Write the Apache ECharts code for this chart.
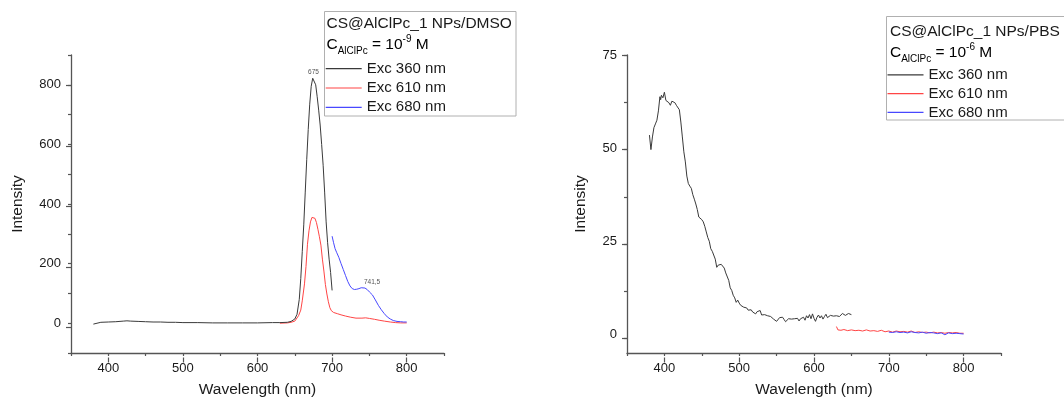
<!DOCTYPE html>
<html>
<head>
<meta charset="utf-8">
<title>CS@AlClPc_1 NPs emission spectra</title>
<script src="https://cdn.jsdelivr.net/npm/echarts@6/dist/echarts.min.js"></script>
<style>
  html, body { margin: 0; padding: 0; background: #fff; }
  #chart { width: 1064px; height: 403px; }
</style>
</head>
<body>
<div id="chart"></div>
<script>
// ---- Emission spectra in DMSO (C = 1e-9 M) ----
const dmsoWl360 = [380, 382, 390, 400, 410, 420, 425, 430, 440, 450, 460, 470, 480, 490, 500, 520, 540, 560, 580, 600, 620, 630, 640, 645, 650, 653, 656, 658, 660, 662, 664, 666, 668, 670, 672, 674, 675, 676, 678, 680, 682, 684, 686, 688, 690, 692, 694, 696, 698, 700];
const dmsoInt360 = [-3, 2, 3, 4, 5, 7, 8, 7, 6, 5, 4, 4, 3, 3, 2, 2, 1, 1, 1, 1, 2, 2, 3, 6, 14, 30, 80, 150, 240, 330, 440, 550, 650, 735, 795, 822, 826, 822, 800, 760, 715, 665, 600, 530, 440, 340, 270, 215, 170, 110];

const dmsoWl610 = [630, 640, 645, 650, 652, 655, 658, 660, 663, 665, 667, 669, 671, 673, 675, 677, 679, 681, 683, 685, 687, 689, 691, 693, 695, 697, 699, 702, 707, 712, 718, 725, 732, 740, 745, 750, 757, 763, 770, 778, 785, 792, 800];
const dmsoInt610 = [0, 1, 3, 7, 11, 25, 44, 75, 132, 190, 265, 310, 340, 355, 357, 352, 338, 315, 290, 262, 215, 175, 130, 98, 72, 52, 42, 36, 32, 28, 24, 20, 17, 17, 18, 16, 13, 10, 7, 4, 2, 1, 1];

const dmsoWl680 = [700, 702, 704, 706, 709, 712, 715, 718, 721, 724, 727, 730, 733, 736, 739, 741.5, 744, 747, 750, 754, 758, 762, 766, 770, 774, 778, 782, 787, 792, 796, 800];
const dmsoInt680 = [292, 270, 250, 238, 221, 200, 180, 160, 140, 125, 116, 113, 114, 116, 119, 120, 118, 113, 105, 95, 78, 60, 45, 32, 21, 14, 9, 6, 5, 4, 4];

// ---- Emission spectra in PBS (C = 1e-6 M) ----
const pbsWl360 = [380, 382, 384, 386, 388, 390, 392, 394, 395, 396, 398, 400, 402, 404, 406, 408, 410, 412, 414, 416, 418, 420, 422, 424, 426, 428, 430, 432, 434, 436, 438, 440, 442, 444, 446, 448, 450, 452, 454, 456, 458, 460, 462, 464, 466, 468, 470, 472, 474, 476, 478, 480, 482, 484, 486, 488, 490, 492, 494, 496, 498, 500, 502, 504, 506, 508, 510, 512, 514, 516, 518, 520, 522, 524, 526, 528, 530, 532, 534, 536, 538, 540, 542, 544, 546, 548, 550, 552, 554, 556, 558, 560, 562, 564, 566, 568, 570, 572, 574, 576, 578, 580, 582, 584, 586, 588, 590, 592, 594, 596, 598, 600, 602, 604, 606, 608, 610, 612, 614, 616, 618, 620, 622, 624, 626, 628, 630, 632, 634, 636, 638, 640, 642, 644, 646, 648, 650];
const pbsInt360 = [53.5, 49.6, 53, 55.5, 56.5, 57.5, 60, 63.8, 63, 64.2, 63.5, 65, 62.8, 62.5, 62.2, 61.5, 62.6, 62.9, 62.2, 61.5, 61, 60.3, 57, 53, 49, 46.3, 42.5, 40.5, 39.8, 39.2, 37.5, 36.3, 35, 33.5, 31.5, 31, 30.8, 30.2, 29, 27.5, 26, 25, 23, 22.3, 21.8, 20.2, 18, 18.6, 18.2, 18.8, 18.4, 17.8, 16.5, 16.2, 14.5, 12.5, 11.8, 10.5, 9.8, 8.6, 9.2, 8.4, 7.8, 7.5, 7.3, 6.9, 7.1, 6.5, 6.2, 6.6, 6.0, 6.3, 5.5, 6.1, 5.8, 6.4, 5.2, 4.9, 5.3, 4.8, 5.0, 4.6, 4.8, 4.3, 4.1, 3.8, 3.5, 3.9, 4.5, 5.0, 4.6, 4.0, 3.4, 3.8, 4.2, 3.9, 4.1, 4.4, 4.2, 4.5, 4.3, 3.6, 4.2, 4.0, 4.6, 3.8, 5.0, 4.4, 5.3, 4.2, 5.5, 4.3, 3.5, 4.6, 5.2, 4.4, 5.0, 4.1, 4.8, 5.4, 4.5, 4.9, 5.1, 4.6, 4.9, 4.7, 5.0, 4.6, 4.8, 5.2, 5.6, 5.3, 5.1, 5.4, 5.6, 5.2, 5.3];

const pbsWl610 = [630, 632, 636, 640, 645, 650, 655, 660, 665, 670, 675, 680, 685, 690, 695, 700, 705, 710, 715, 720, 725, 730, 735, 740, 745, 750, 755, 760, 765, 770, 775, 780, 785, 790, 795, 800];
const pbsInt610 = [2.1, 1.2, 1.1, 1.3, 1.0, 1.2, 1.0, 1.1, 0.9, 1.2, 0.9, 1.0, 0.8, 1.1, 0.7, 0.9, 0.6, 0.9, 0.7, 0.8, 0.6, 0.9, 0.5, 0.7, 0.5, 0.6, 0.4, 0.6, 0.4, 0.5, 0.3, 0.5, 0.4, 0.5, 0.3, 0.3];

const pbsWl680 = [700, 705, 710, 715, 720, 725, 730, 735, 740, 745, 750, 755, 760, 765, 770, 775, 780, 785, 790, 795, 800];
const pbsInt680 = [0.6, 0.5, 0.7, 0.5, 0.6, 0.4, 0.7, 0.5, 0.4, 0.6, 0.3, 0.5, 0.4, 0.2, 0.4, -0.1, 0.4, 0.2, 0.3, 0.2, 0.1];

// Peak positions annotated on the DMSO spectra
const dmsoPeak360 = 675;
const dmsoPeak680 = 741.5;

// Axis ranges and tick labels
const wlRange = [350, 850];
const wlLabels = [400, 500, 600, 700, 800];
const dmsoRange = [-100, 900];
const dmsoLabels = [0, 200, 400, 600, 800];
const pbsRange = [-5, 75];
const pbsLabels = [0, 25, 50, 75];

const seriesNames = ['Exc 360 nm', 'Exc 610 nm', 'Exc 680 nm'];
const seriesColors = ['#3a3a3a', '#ff4545', '#4848ff'];

const FONT = '"Liberation Sans", Arial, sans-serif';
const AXIS_COLOR = '#555';
const TEXT_COLOR = '#1a1a1a';

// Plot frames (px)
const PLOT_TOP = 55, PLOT_H = 302.5;
const frames = [{ left: 71, width: 373 }, { left: 627, width: 374 }];

const pairs = (xs, ys) => xs.map((x, i) => [x, ys[i]]);
const valueAt = (xs, ys, x) => ys[xs.indexOf(x)];
const first = a => a[0], last = a => a[a.length - 1];

// Sub-frame covering only the labelled span, so major ticks line up with the labels
function majorFrame(frame, xRange, xLab, yRange, yLab) {
  const sx = frame.width / (xRange[1] - xRange[0]);
  const sy = PLOT_H / (yRange[1] - yRange[0]);
  const left = frame.left + (first(xLab) - xRange[0]) * sx;
  const width = (last(xLab) - first(xLab)) * sx;
  const top = PLOT_TOP + (yRange[1] - last(yLab)) * sy;
  const height = (last(yLab) - first(yLab)) * sy;
  return {
    grid: { left, top, width, height },
    xOffset: PLOT_TOP + PLOT_H - (top + height),
    yOffset: left - frame.left
  };
}
const dmsoMajor = majorFrame(frames[0], wlRange, wlLabels, dmsoRange, dmsoLabels);
const pbsMajor = majorFrame(frames[1], wlRange, wlLabels, pbsRange, pbsLabels);

const tickStyle = { color: AXIS_COLOR, width: 1.2 };

function mainX(gridIndex) {
  return {
    type: 'value', gridIndex, position: 'bottom', min: wlRange[0], max: wlRange[1], interval: 50,
    name: 'Wavelength (nm)', nameLocation: 'middle', nameGap: 29,
    nameTextStyle: { fontFamily: FONT, fontSize: 15.5, color: TEXT_COLOR },
    axisLine: { show: true, onZero: false, lineStyle: { color: AXIS_COLOR, width: 1.3 } },
    axisTick: { show: true, inside: false, length: 3, lineStyle: tickStyle },
    axisLabel: { show: true, customValues: wlLabels, margin: 9, fontFamily: FONT, fontSize: 13, color: TEXT_COLOR },
    splitLine: { show: false }
  };
}
function mainY(gridIndex, range, labels, gap, minorInterval) {
  return {
    type: 'value', gridIndex, position: 'left', min: range[0], max: range[1],
    interval: minorInterval || undefined,
    name: 'Intensity', nameLocation: 'middle', nameGap: gap, nameRotate: 90,
    nameTextStyle: { fontFamily: FONT, fontSize: 15.5, color: TEXT_COLOR },
    axisLine: { show: true, onZero: false, lineStyle: { color: AXIS_COLOR, width: 1.3 } },
    axisTick: { show: !!minorInterval, inside: false, length: 3, lineStyle: tickStyle },
    axisLabel: { show: true, customValues: labels, margin: 10, fontFamily: FONT, fontSize: 13, color: TEXT_COLOR },
    splitLine: { show: false }
  };
}
// Tick-only axis on a sub-frame
function tickAxis(gridIndex, position, offset, min, max, interval, length) {
  return {
    type: 'value', gridIndex, position, offset, min, max, interval,
    axisLine: { show: false, onZero: false },
    axisTick: { show: true, inside: false, length, lineStyle: tickStyle },
    axisLabel: { show: false },
    splitLine: { show: false }
  };
}

function lineSeries(name, color, xIdx, yIdx, data, extra) {
  return Object.assign({
    name, type: 'line', xAxisIndex: xIdx, yAxisIndex: yIdx,
    data, symbol: 'none', showSymbol: false, smooth: false,
    lineStyle: { color, width: 1 }, itemStyle: { color },
    emphasis: { disabled: true }, animation: false
  }, extra || {});
}

function peakMark(x, y, offset) {
  return {
    symbol: 'circle', symbolSize: 1, itemStyle: { color: 'rgba(0,0,0,0)' },
    label: {
      show: true, position: 'top', distance: 1, offset,
      formatter: String(x).replace('.', ','),
      fontFamily: FONT, fontSize: 6.5, color: '#555'
    },
    data: [{ coord: [x, y] }],
    animation: false
  };
}

const legendBase = {
  orient: 'vertical', padding: 0, icon: 'rect', itemWidth: 36, itemHeight: 1.2,
  selectedMode: false, data: seriesNames,
  textStyle: { fontFamily: FONT, fontSize: 15, color: TEXT_COLOR, lineHeight: 16 }
};

const richHeader = {
  n: { fontFamily: FONT, fontSize: 15.5, color: TEXT_COLOR, lineHeight: 22, verticalAlign: 'middle' },
  sub: { fontFamily: FONT, fontSize: 10, color: TEXT_COLOR, lineHeight: 10, verticalAlign: 'bottom' },
  sup: { fontFamily: FONT, fontSize: 10, color: TEXT_COLOR, lineHeight: 10, verticalAlign: 'top' }
};
function headerText(x, y, text) {
  return { type: 'text', left: x, top: y, style: { text, font: '15.5px ' + FONT, fill: TEXT_COLOR } };
}
function concText(x, y, exp) {
  return {
    type: 'text', left: x, top: y,
    style: { text: '{n|C}{sub|AlClPc}{n| = 10}{sup|' + exp + '}{n| M}', rich: richHeader }
  };
}

const chart = echarts.init(document.getElementById('chart'), null, { renderer: 'canvas' });
chart.setOption({
  backgroundColor: '#fff',
  animation: false,
  grid: [
    { left: frames[0].left, top: PLOT_TOP, width: frames[0].width, height: PLOT_H },
    { left: frames[1].left, top: PLOT_TOP, width: frames[1].width, height: PLOT_H },
    dmsoMajor.grid,
    pbsMajor.grid
  ],
  xAxis: [
    mainX(0),
    mainX(1),
    tickAxis(2, 'bottom', dmsoMajor.xOffset, first(wlLabels), last(wlLabels), 100, 5),
    tickAxis(3, 'bottom', pbsMajor.xOffset, first(wlLabels), last(wlLabels), 100, 5)
  ],
  yAxis: [
    mainY(0, dmsoRange, dmsoLabels, 45, 100),
    mainY(1, pbsRange, pbsLabels, 38, 0),
    tickAxis(2, 'left', dmsoMajor.yOffset, first(dmsoLabels), last(dmsoLabels), 200, 5),
    tickAxis(3, 'left', pbsMajor.yOffset, first(pbsLabels), last(pbsLabels), 25, 5),
    tickAxis(3, 'left', pbsMajor.yOffset, first(pbsLabels), last(pbsLabels), 12.5, 3)
  ],
  legend: [
    Object.assign({ left: 325.7, top: 60.7 }, legendBase, { itemGap: 3.3 }),
    Object.assign({ left: 887.5, top: 66.8 }, legendBase, { itemGap: 2.8 })
  ],
  series: [
    lineSeries(seriesNames[0], seriesColors[0], 0, 0, pairs(dmsoWl360, dmsoInt360),
      { z: 4, markPoint: peakMark(dmsoPeak360, valueAt(dmsoWl360, dmsoInt360, dmsoPeak360), [0, 0]) }),
    lineSeries(seriesNames[1], seriesColors[1], 0, 0, pairs(dmsoWl610, dmsoInt610), { z: 3 }),
    lineSeries(seriesNames[2], seriesColors[2], 0, 0, pairs(dmsoWl680, dmsoInt680),
      { z: 3, markPoint: peakMark(dmsoPeak680, valueAt(dmsoWl680, dmsoInt680, dmsoPeak680), [9, 0]) }),
    lineSeries(seriesNames[0], seriesColors[0], 1, 1, pairs(pbsWl360, pbsInt360), { z: 4 }),
    lineSeries(seriesNames[1], seriesColors[1], 1, 1, pairs(pbsWl610, pbsInt610), { z: 3 }),
    lineSeries(seriesNames[2], seriesColors[2], 1, 1, pairs(pbsWl680, pbsInt680), { z: 3 })
  ],
  graphic: [
    { type: 'rect', shape: { x: 324.5, y: 11.5, width: 191.5, height: 104.5 }, style: { fill: 'none', stroke: '#b0b0b0', lineWidth: 1 }, silent: true },
    headerText(326.5, 15.5, 'CS@AlClPc_1 NPs/DMSO'),
    concText(326.5, 34, '-9'),
    { type: 'rect', shape: { x: 886.5, y: 16.5, width: 190, height: 103.5 }, style: { fill: 'none', stroke: '#b0b0b0', lineWidth: 1 }, silent: true },
    headerText(890, 23.5, 'CS@AlClPc_1 NPs/PBS'),
    concText(890, 42, '-6')
  ]
});
</script>
</body>
</html>
